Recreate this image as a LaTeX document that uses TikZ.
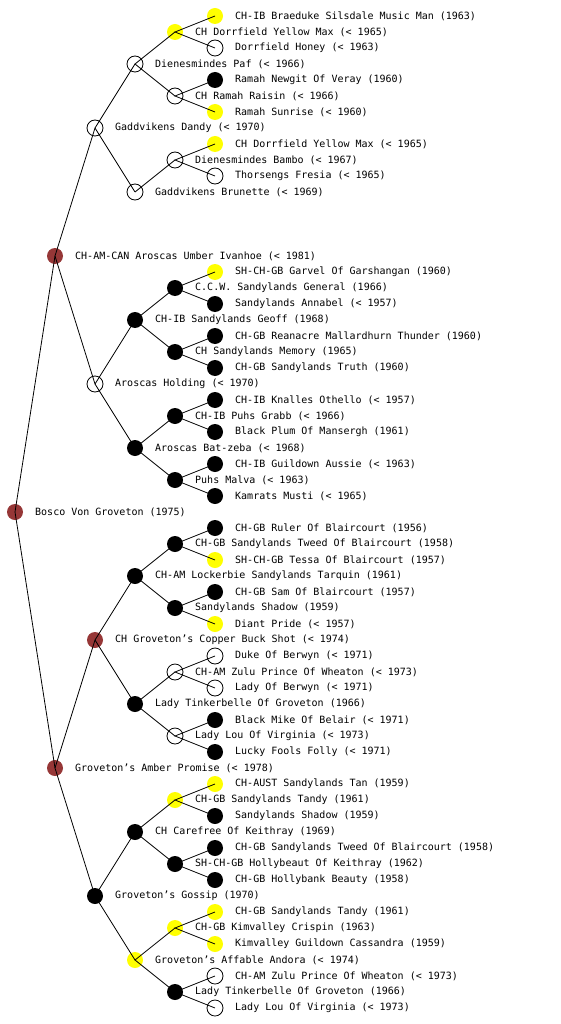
\documentclass[tikz,border=0pt]{standalone}
\usepackage{fontspec}
\setmonofont{DejaVu Sans Mono}
\definecolor{dogyellow}{RGB}{255,255,0}
\definecolor{dogred}{RGB}{150,55,55}
\tikzset{
  dog/.style={circle, minimum size=16pt, inner sep=0pt, line width=0.8pt},
  unk/.style={dog, draw=black, fill=white},
  yel/.style={dog, fill=dogyellow},
  blk/.style={dog, fill=black},
  brn/.style={dog, fill=dogred},
  txt/.style={font=\ttfamily\fontsize{10}{12}\selectfont, inner sep=0pt, label distance=11.6pt},
  edge/.style={line width=0.8pt, draw=black},
}

\begin{document}
\begin{tikzpicture}[x=1pt, y=-1pt]
\useasboundingbox (0,0) rectangle (560,1024);
\fill[white] (0,0) rectangle (560,1024);
% generation 0-2
\node[brn, label={[txt]0:Bosco Von Groveton (1975)}] (n1) at (15,512) {};
\node[brn, label={[txt]0:CH-AM-CAN Aroscas Umber Ivanhoe (< 1981)}] (n2) at (55,256) {};
\node[brn, label={[txt]0:Groveton’s Amber Promise (< 1978)}] (n3) at (55,768) {};
\node[unk, label={[txt]0:Gaddvikens Dandy (< 1970)}] (n4) at (95,128) {};
\node[unk, label={[txt]0:Aroscas Holding (< 1970)}] (n5) at (95,384) {};
\node[brn, label={[txt]0:CH Groveton’s Copper Buck Shot (< 1974)}] (n6) at (95,640) {};
\node[blk, label={[txt]0:Groveton’s Gossip (1970)}] (n7) at (95,896) {};
% generation 3
\node[unk, label={[txt]0:Dienesmindes Paf (< 1966)}] (n8) at (135,64) {};
\node[unk, label={[txt]0:Gaddvikens Brunette (< 1969)}] (n9) at (135,192) {};
\node[blk, label={[txt]0:CH-IB Sandylands Geoff (1968)}] (n10) at (135,320) {};
\node[blk, label={[txt]0:Aroscas Bat-zeba (< 1968)}] (n11) at (135,448) {};
\node[blk, label={[txt]0:CH-AM Lockerbie Sandylands Tarquin (1961)}] (n12) at (135,576) {};
\node[blk, label={[txt]0:Lady Tinkerbelle Of Groveton (1966)}] (n13) at (135,704) {};
\node[blk, label={[txt]0:CH Carefree Of Keithray (1969)}] (n14) at (135,832) {};
\node[yel, label={[txt]0:Groveton’s Affable Andora (< 1974)}] (n15) at (135,960) {};
% generation 4
\node[yel, label={[txt]0:CH Dorrfield Yellow Max (< 1965)}] (n16) at (175,32) {};
\node[unk, label={[txt]0:CH Ramah Raisin (< 1966)}] (n17) at (175,96) {};
\node[unk, label={[txt]0:Dienesmindes Bambo (< 1967)}] (n18) at (175,160) {};
\node[blk, label={[txt]0:C.C.W. Sandylands General (1966)}] (n20) at (175,288) {};
\node[blk, label={[txt]0:CH Sandylands Memory (1965)}] (n21) at (175,352) {};
\node[blk, label={[txt]0:CH-IB Puhs Grabb (< 1966)}] (n22) at (175,416) {};
\node[blk, label={[txt]0:Puhs Malva (< 1963)}] (n23) at (175,480) {};
\node[blk, label={[txt]0:CH-GB Sandylands Tweed Of Blaircourt (1958)}] (n24) at (175,544) {};
\node[blk, label={[txt]0:Sandylands Shadow (1959)}] (n25) at (175,608) {};
\node[unk, label={[txt]0:CH-AM Zulu Prince Of Wheaton (< 1973)}] (n26) at (175,672) {};
\node[unk, label={[txt]0:Lady Lou Of Virginia (< 1973)}] (n27) at (175,736) {};
\node[yel, label={[txt]0:CH-GB Sandylands Tandy (1961)}] (n28) at (175,800) {};
\node[blk, label={[txt]0:SH-CH-GB Hollybeaut Of Keithray (1962)}] (n29) at (175,864) {};
\node[yel, label={[txt]0:CH-GB Kimvalley Crispin (1963)}] (n30) at (175,928) {};
\node[blk, label={[txt]0:Lady Tinkerbelle Of Groveton (1966)}] (n31) at (175,992) {};
% generation 5
\node[yel, label={[txt]0:CH-IB Braeduke Silsdale Music Man (1963)}] (n32) at (215,16) {};
\node[unk, label={[txt]0:Dorrfield Honey (< 1963)}] (n33) at (215,48) {};
\node[blk, label={[txt]0:Ramah Newgit Of Veray (1960)}] (n34) at (215,80) {};
\node[yel, label={[txt]0:Ramah Sunrise (< 1960)}] (n35) at (215,112) {};
\node[yel, label={[txt]0:CH Dorrfield Yellow Max (< 1965)}] (n36) at (215,144) {};
\node[unk, label={[txt]0:Thorsengs Fresia (< 1965)}] (n37) at (215,176) {};
\node[yel, label={[txt]0:SH-CH-GB Garvel Of Garshangan (1960)}] (n40) at (215,272) {};
\node[blk, label={[txt]0:Sandylands Annabel (< 1957)}] (n41) at (215,304) {};
\node[blk, label={[txt]0:CH-GB Reanacre Mallardhurn Thunder (1960)}] (n42) at (215,336) {};
\node[blk, label={[txt]0:CH-GB Sandylands Truth (1960)}] (n43) at (215,368) {};
\node[blk, label={[txt]0:CH-IB Knalles Othello (< 1957)}] (n44) at (215,400) {};
\node[blk, label={[txt]0:Black Plum Of Mansergh (1961)}] (n45) at (215,432) {};
\node[blk, label={[txt]0:CH-IB Guildown Aussie (< 1963)}] (n46) at (215,464) {};
\node[blk, label={[txt]0:Kamrats Musti (< 1965)}] (n47) at (215,496) {};
\node[blk, label={[txt]0:CH-GB Ruler Of Blaircourt (1956)}] (n48) at (215,528) {};
\node[yel, label={[txt]0:SH-CH-GB Tessa Of Blaircourt (1957)}] (n49) at (215,560) {};
\node[blk, label={[txt]0:CH-GB Sam Of Blaircourt (1957)}] (n50) at (215,592) {};
\node[yel, label={[txt]0:Diant Pride (< 1957)}] (n51) at (215,624) {};
\node[unk, label={[txt]0:Duke Of Berwyn (< 1971)}] (n52) at (215,656) {};
\node[unk, label={[txt]0:Lady Of Berwyn (< 1971)}] (n53) at (215,688) {};
\node[blk, label={[txt]0:Black Mike Of Belair (< 1971)}] (n54) at (215,720) {};
\node[blk, label={[txt]0:Lucky Fools Folly (< 1971)}] (n55) at (215,752) {};
\node[yel, label={[txt]0:CH-AUST Sandylands Tan (1959)}] (n56) at (215,784) {};
\node[blk, label={[txt]0:Sandylands Shadow (1959)}] (n57) at (215,816) {};
\node[blk, label={[txt]0:CH-GB Sandylands Tweed Of Blaircourt (1958)}] (n58) at (215,848) {};
\node[blk, label={[txt]0:CH-GB Hollybank Beauty (1958)}] (n59) at (215,880) {};
\node[yel, label={[txt]0:CH-GB Sandylands Tandy (1961)}] (n60) at (215,912) {};
\node[yel, label={[txt]0:Kimvalley Guildown Cassandra (1959)}] (n61) at (215,944) {};
\node[unk, label={[txt]0:CH-AM Zulu Prince Of Wheaton (< 1973)}] (n62) at (215,976) {};
\node[unk, label={[txt]0:Lady Lou Of Virginia (< 1973)}] (n63) at (215,1008) {};
% sire -- dog -- dam
\draw[edge] (n2.center) -- (n1.center) -- (n3.center);
\draw[edge] (n4.center) -- (n2.center) -- (n5.center);
\draw[edge] (n6.center) -- (n3.center) -- (n7.center);
\draw[edge] (n8.center) -- (n4.center) -- (n9.center);
\draw[edge] (n10.center) -- (n5.center) -- (n11.center);
\draw[edge] (n12.center) -- (n6.center) -- (n13.center);
\draw[edge] (n14.center) -- (n7.center) -- (n15.center);
\draw[edge] (n16.center) -- (n8.center) -- (n17.center);
\draw[edge] (n18.center) -- (n9.center);
\draw[edge] (n20.center) -- (n10.center) -- (n21.center);
\draw[edge] (n22.center) -- (n11.center) -- (n23.center);
\draw[edge] (n24.center) -- (n12.center) -- (n25.center);
\draw[edge] (n26.center) -- (n13.center) -- (n27.center);
\draw[edge] (n28.center) -- (n14.center) -- (n29.center);
\draw[edge] (n30.center) -- (n15.center) -- (n31.center);
\draw[edge] (n32.center) -- (n16.center) -- (n33.center);
\draw[edge] (n34.center) -- (n17.center) -- (n35.center);
\draw[edge] (n36.center) -- (n18.center) -- (n37.center);
\draw[edge] (n40.center) -- (n20.center) -- (n41.center);
\draw[edge] (n42.center) -- (n21.center) -- (n43.center);
\draw[edge] (n44.center) -- (n22.center) -- (n45.center);
\draw[edge] (n46.center) -- (n23.center) -- (n47.center);
\draw[edge] (n48.center) -- (n24.center) -- (n49.center);
\draw[edge] (n50.center) -- (n25.center) -- (n51.center);
\draw[edge] (n52.center) -- (n26.center) -- (n53.center);
\draw[edge] (n54.center) -- (n27.center) -- (n55.center);
\draw[edge] (n56.center) -- (n28.center) -- (n57.center);
\draw[edge] (n58.center) -- (n29.center) -- (n59.center);
\draw[edge] (n60.center) -- (n30.center) -- (n61.center);
\draw[edge] (n62.center) -- (n31.center) -- (n63.center);
\end{tikzpicture}
\end{document}
